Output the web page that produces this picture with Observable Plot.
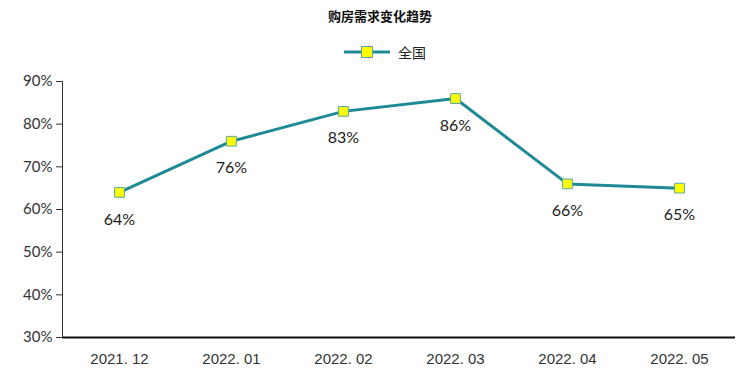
<!DOCTYPE html>
<html><head><meta charset="utf-8">
<script src="https://cdn.jsdelivr.net/npm/d3@7"></script>
<script src="https://cdn.jsdelivr.net/npm/@observablehq/plot@0.6"></script>
<style>
body{margin:0;background:#fff;width:740px;font-family:"Noto Sans CJK SC",sans-serif;}
#title{height:34px;line-height:32px;text-align:center;font-size:13px;font-weight:bold;color:#111;padding-left:20px;}
#legend{height:36px;display:flex;justify-content:center;align-items:center;padding-left:30px;font-size:14px;color:#222;}
#legend svg{margin-right:8px}
</style></head><body>
<div id="title">购房需求变化趋势</div>
<div id="legend"><svg width="46" height="14"><line x1="0" y1="7" x2="46" y2="7" stroke="#1f8a96" stroke-width="3"/><rect x="17.5" y="1.5" width="11" height="11" fill="#ffff00" stroke="#5aa7a8" stroke-width="1"/></svg><span>全国</span></div>
<div id="chart"></div>
<script>
const categories = ["2021.12","2022.01","2022.02","2022.03","2022.04","2022.05"];
const values = [64, 76, 83, 86, 66, 65];
const yTicks = [30, 40, 50, 60, 70, 80, 90];
const seriesName = "全国";

const data = categories.map((c, i) => ({month: c, value: values[i], series: seriesName}));

const chart = Plot.plot({
  width: 740,
  height: 306,
  marginTop: 11,
  marginBottom: 39,
  marginLeft: 62,
  marginRight: 5,
  style: {fontFamily: "Lato, sans-serif", fontSize: "14px", color: "#333", background: "#fff"},
  x: {type: "point", domain: categories, padding: 0.5, label: null},
  y: {domain: [30, 90], label: null},
  marks: [
    Plot.axisY({ticks: yTicks, tickFormat: d => d + "%", tickSize: 6, tickPadding: 4, fontSize: 15, stroke: "#333", strokeOpacity: 1}),
    Plot.axisX({tickSize: 0, tickPadding: 16, fontSize: 15, fontFamily: "Liberation Sans, sans-serif", tickFormat: d => d.replace(".", ". ")}),
    Plot.frame({anchor: "left", stroke: "#333", strokeWidth: 1}),
    Plot.ruleY([30], {stroke: "#111", strokeWidth: 2}),
    Plot.line(data, {x: "month", y: "value", stroke: "#1f8a96", strokeWidth: 3}),
    Plot.dot(data, {x: "month", y: "value", symbol: "square", r: 5.5, fill: "#ffff00", stroke: "#5aa7a8", strokeWidth: 1}),
    Plot.text(data, {x: "month", y: "value", text: d => d.value + "%", dy: 27, fontSize: 16, fill: "#222"})
  ]
});
document.getElementById("chart").appendChild(chart);
</script>
</body></html>
